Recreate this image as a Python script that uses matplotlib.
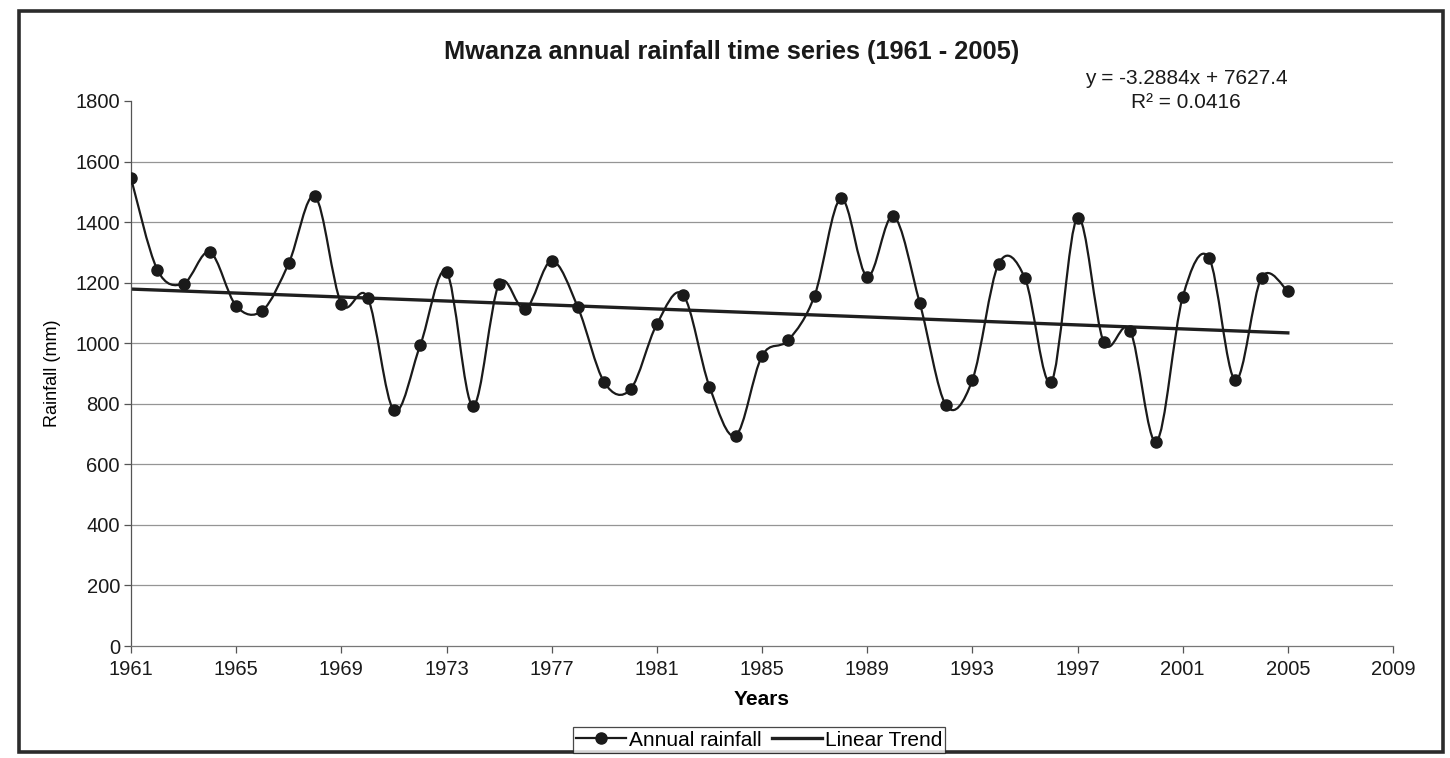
import matplotlib
matplotlib.use('Agg')
import matplotlib.pyplot as plt
from matplotlib.path import Path
import matplotlib.patches as patches
from matplotlib.lines import Line2D
import numpy as np

plt.rcParams['font.family'] = ['Liberation Sans', 'DejaVu Sans']

# Annual rainfall (mm)
years = list(range(1961, 2006))
rainfall = [1545, 1243, 1197, 1301, 1123, 1108, 1264, 1485, 1131, 1151,
            778, 993, 1236, 793, 1196, 1112, 1272, 1118, 871, 848,
            1063, 1160, 857, 695, 958, 1010, 1157, 1478, 1220, 1420,
            1133, 795, 878, 1262, 1215, 872, 1415, 1003, 1042, 675,
            1152, 1282, 878, 1217, 1172]

# Trend line as printed on the chart
slope = -3.2884
intercept = 7627.4
r_squared = 0.0416

x_ticks = list(range(1961, 2010, 4))
y_ticks = list(range(0, 1801, 200))


def smooth_path(xs, ys):
    # Excel style smoothed line: cubic bezier, catmull-rom like control points
    pts = np.column_stack([xs, ys]).astype(float)
    n = len(pts)
    verts = [pts[0]]
    codes = [Path.MOVETO]
    for i in range(n - 1):
        p0 = pts[i - 1] if i > 0 else pts[i]
        p1 = pts[i]
        p2 = pts[i + 1]
        p3 = pts[i + 2] if i + 2 < n else pts[i + 1]
        c1 = p1 + (p2 - p0) / 6.0
        c2 = p2 - (p3 - p1) / 6.0
        verts += [c1, c2, p2]
        codes += [Path.CURVE4] * 3
    return Path(verts, codes)


fig = plt.figure(figsize=(14.5, 7.58), dpi=100)
fig.patch.set_facecolor('white')

# outer chart frame
frame = patches.Rectangle((19 / 1450, 1 - 752 / 758), (1443 - 19) / 1450, (752 - 11) / 758,
                          transform=fig.transFigure, fill=False, edgecolor='#2b2b2b',
                          linewidth=2.6)
fig.patches.append(frame)

ax = fig.add_axes([131 / 1450, 1 - 646 / 758, (1393 - 131) / 1450, (646 - 101) / 758])
ax.set_xlim(1961, 2009)
ax.set_ylim(0, 1800)

for v in y_ticks[1:-1]:
    ax.axhline(v, color='#959595', linewidth=0.9, zorder=1)

curve = patches.PathPatch(smooth_path(years, rainfall), facecolor='none',
                          edgecolor='#1a1a1a', linewidth=1.6, zorder=3)
ax.add_patch(curve)
ax.plot(years, rainfall, linestyle='none', marker='o', markersize=8,
        color='#1a1a1a', zorder=4)

trend_x = np.array([years[0], years[-1]])
ax.plot(trend_x, slope * trend_x + intercept, color='#1f1f1f', linewidth=2.4, zorder=2)

ax.set_xticks(x_ticks)
ax.set_yticks(y_ticks)
ax.tick_params(axis='both', direction='out', labelsize=14.5, colors='#555555',
               labelcolor='#1a1a1a', width=0.9)
ax.tick_params(axis='y', length=5, pad=3)
ax.tick_params(axis='x', length=5, pad=5)

for s in ['top', 'right']:
    ax.spines[s].set_visible(False)
ax.spines['left'].set_color('#555555')
ax.spines['bottom'].set_color('#777777')
ax.spines['left'].set_linewidth(0.9)
ax.spines['bottom'].set_linewidth(0.9)

ax.set_xlabel('Years', fontsize=15, fontweight='bold', labelpad=8)
ax.set_ylabel('Rainfall (mm)', fontsize=13, labelpad=10)

fig.text(732 / 1450, 1 - 52 / 758, 'Mwanza annual rainfall time series (1961 - 2005)',
         ha='center', va='center', fontsize=18.3, fontweight='bold', color='#1a1a1a')

fig.text(1186 / 1450, 1 - 79 / 758, 'y = %.4fx + %.1f' % (slope, intercept),
         ha='center', va='center', fontsize=15, color='#1a1a1a')
fig.text(1186 / 1450, 1 - 103 / 758, 'R\u00b2 = %.4f' % r_squared,
         ha='center', va='center', fontsize=15, color='#1a1a1a')

handles = [Line2D([], [], color='#1a1a1a', linewidth=1.6, marker='o', markersize=8),
           Line2D([], [], color='#1f1f1f', linewidth=2.4)]
leg = fig.legend(handles, ['Annual rainfall', 'Linear Trend'], ncol=2,
                 loc='center', bbox_to_anchor=(759 / 1450, 1 - 740 / 758),
                 fontsize=15, frameon=True, fancybox=False, handlelength=2.4,
                 handletextpad=0.15, columnspacing=0.5, borderpad=0.15,
                 borderaxespad=0)
leg.get_frame().set_edgecolor('#1a1a1a')
leg.get_frame().set_linewidth(0.9)

fig.savefig('out.png', dpi=100, facecolor='white')
